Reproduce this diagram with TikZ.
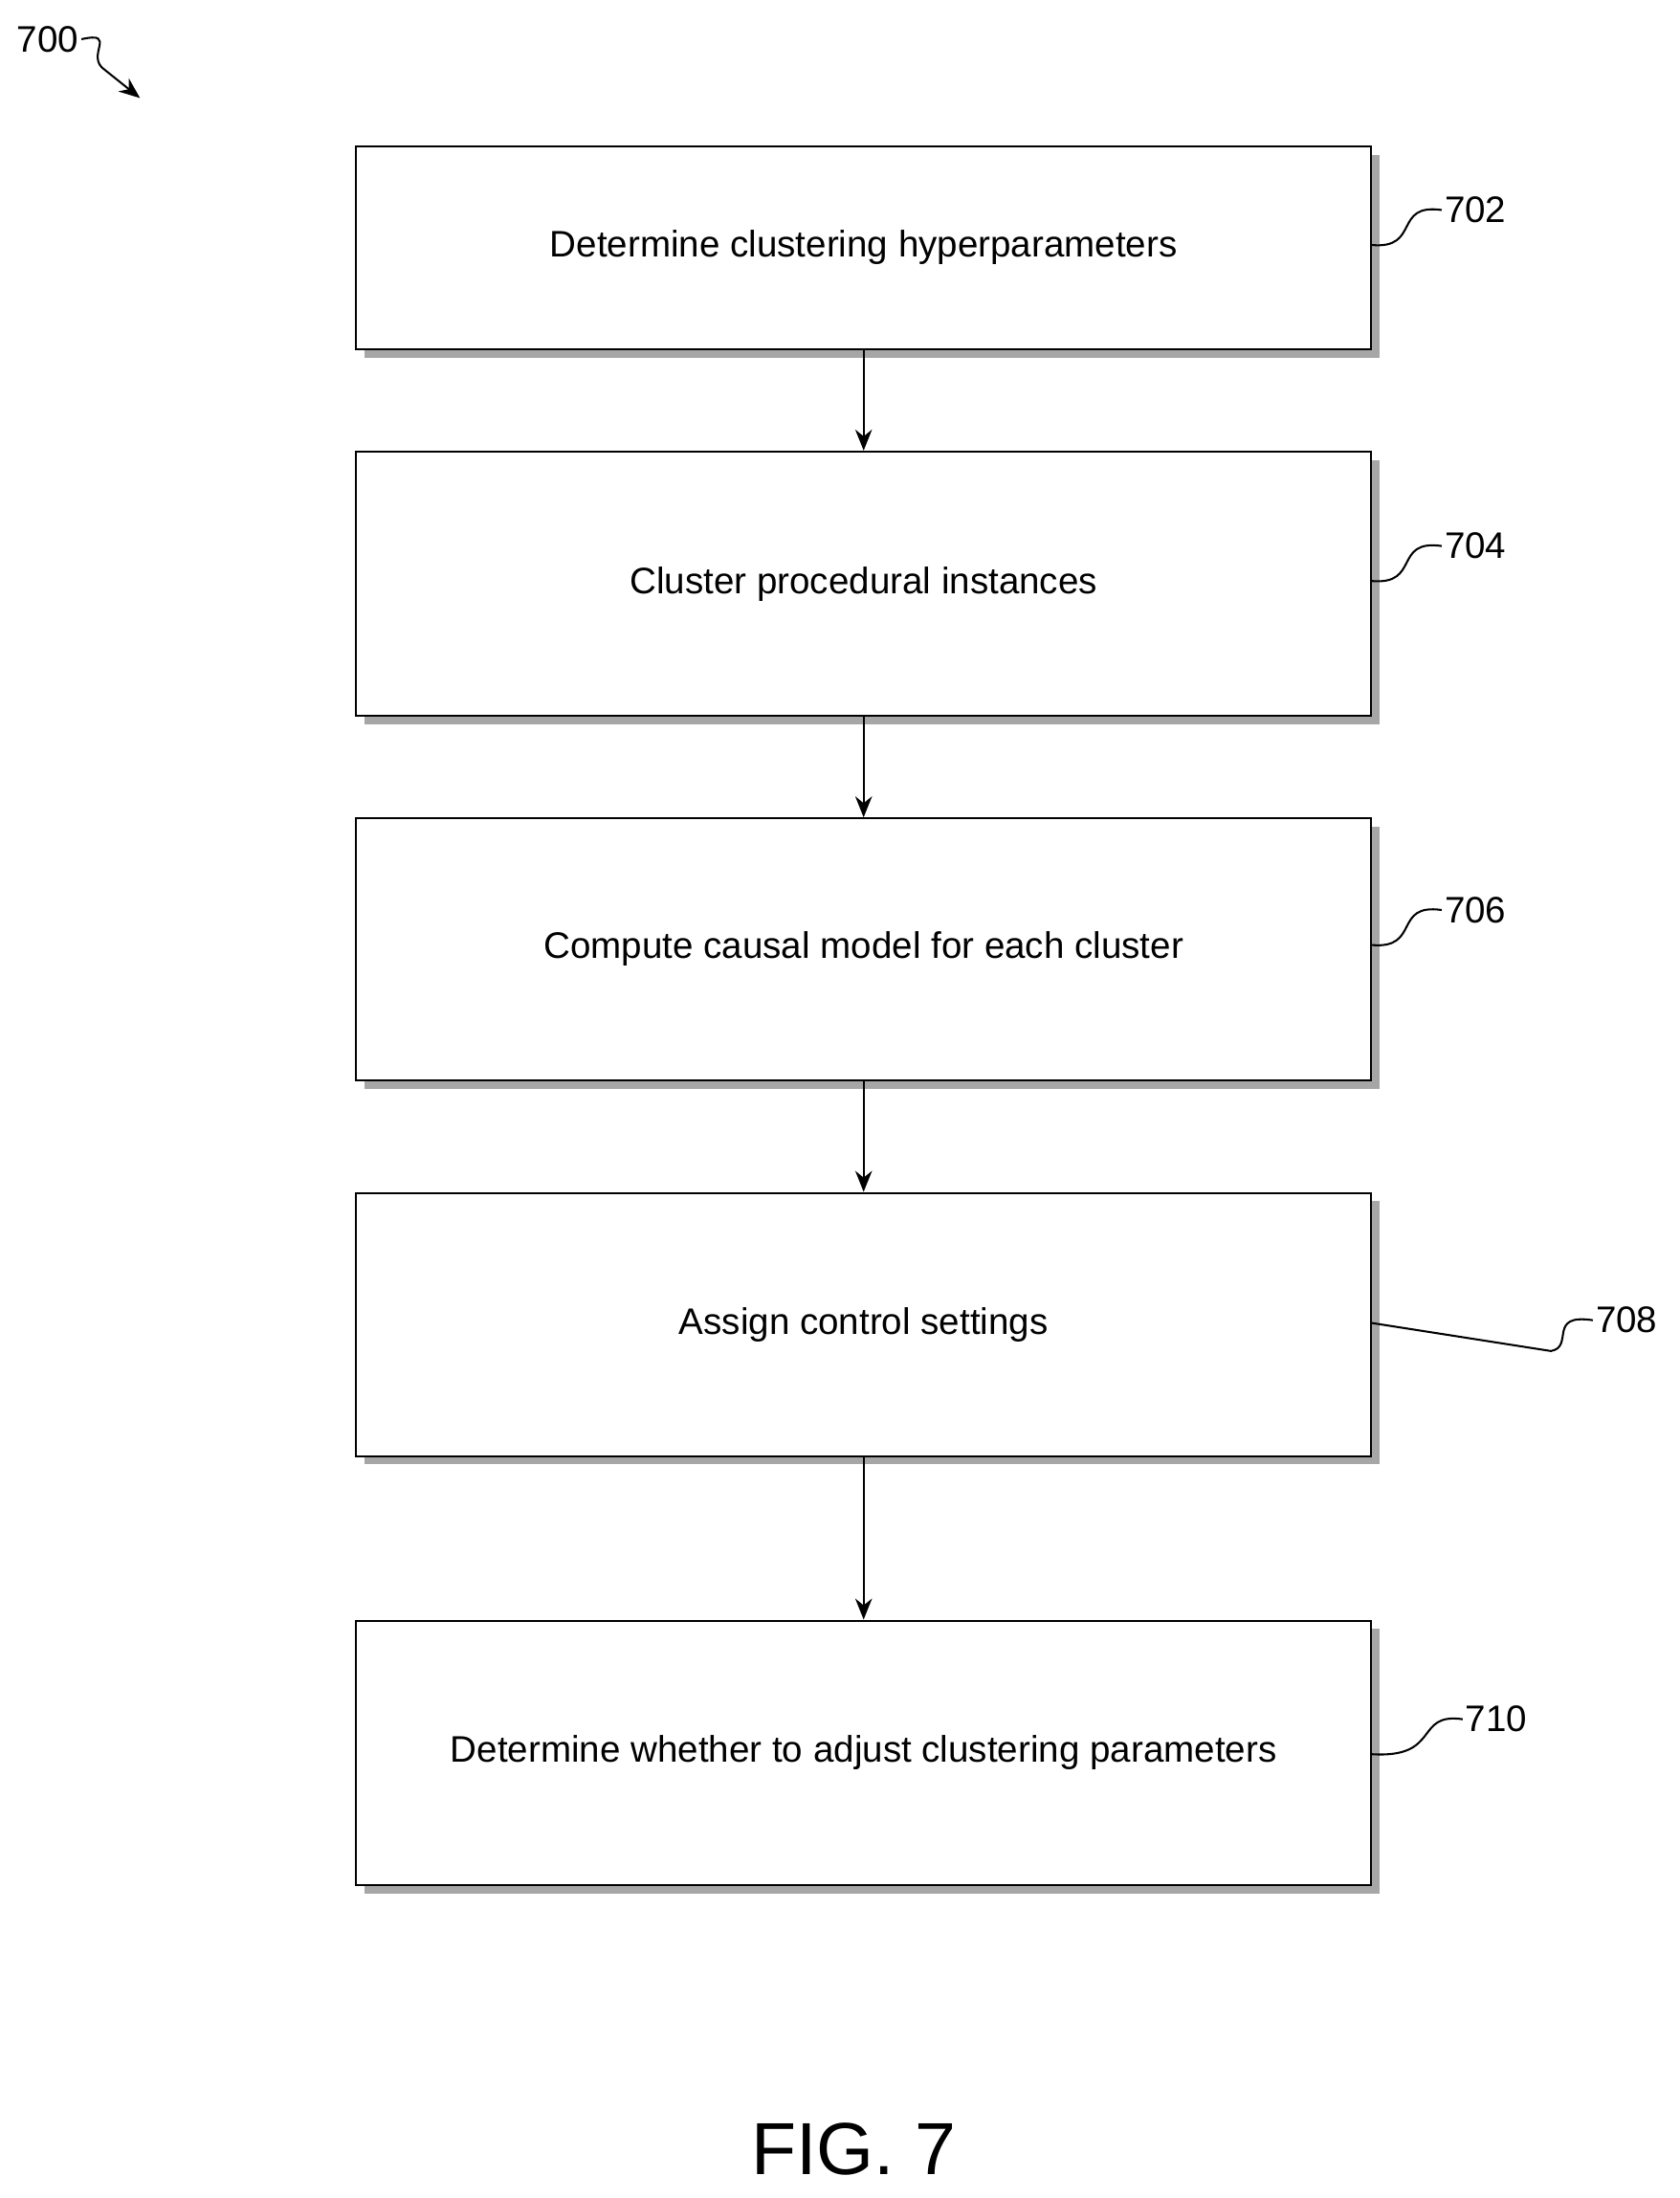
\documentclass[tikz,border=0pt]{standalone}
\usepackage{fontspec}
\setmainfont{Liberation Sans}
\usetikzlibrary{positioning,shadows,arrows.meta}

\begin{document}
\begin{tikzpicture}[x=0.02cm,y=-0.02cm,
    procstep/.style={rectangle,draw,thick,fill=white,minimum width=14.5cm,inner sep=0pt,
      font=\fontsize{15}{18}\selectfont,
      drop shadow={shadow xshift=1.2mm,shadow yshift=-1.2mm,fill=gray!70,opacity=1}},
    reflabel/.style={font=\fontsize{15}{18}\selectfont,anchor=west,inner sep=1pt},
    flow/.style={-{Stealth[length=3mm,width=2.4mm]},thick}
    ]
    \useasboundingbox (0,0) rectangle (1200,1570);

    \node (s702) [procstep,minimum height=2.9cm]  at (617,177) {Determine clustering hyperparameters};
    \node (s704) [procstep,minimum height=3.78cm] at (617,417) {Cluster procedural instances};
    \node (s706) [procstep,minimum height=3.74cm] at (617,678) {Compute causal model for each cluster};
    \node (s708) [procstep,minimum height=3.76cm] at (617,946) {Assign control settings};
    \node (s710) [procstep,minimum height=3.78cm] at (617,1252) {Determine whether to adjust clustering parameters};

    \draw[flow] (s702) -- (s704);
    \draw[flow] (s704) -- (s706);
    \draw[flow] (s706) -- (s708);
    \draw[flow] (s708) -- (s710);

    % reference numerals
    \node (l702) [reflabel] at (1030,150) {702};
    \node (l704) [reflabel] at (1030,390) {704};
    \node (l706) [reflabel] at (1030,650) {706};
    \node (l708) [reflabel] at (1138,943) {708};
    \node (l710) [reflabel] at (1045,1228) {710};

    \draw[thick] (s702.east |- 0,175) .. controls (1015,178) and (995,145) .. (l702.west);
    \draw[thick] (s704.east |- 0,415) .. controls (1015,418) and (995,385) .. (l704.west);
    \draw[thick] (s706.east |- 0,675) .. controls (1015,678) and (995,645) .. (l706.west);
    \coordinate (k708) at (1108,965);
    \draw[thick] (s708.east |- 0,945) -- (k708) .. controls (1125,962) and (1105,938) .. (l708.west);
    \draw[thick] (s710.east |- 0,1253) .. controls (1030,1256) and (1010,1223) .. (l710.west);

    \node (l700) [reflabel] at (10,28) {700};
    \coordinate (a700) at (100,70);
    \draw[thick,-{Stealth[length=3mm,width=2.4mm]}] (l700.east) .. controls (85,22) and (60,40) .. (75,50) .. controls (85,58) and (90,62) .. (a700);

    \node (fig) [font=\fontsize{30}{36}\selectfont] at (610,1535) {FIG. 7};
\end{tikzpicture}
\end{document}
